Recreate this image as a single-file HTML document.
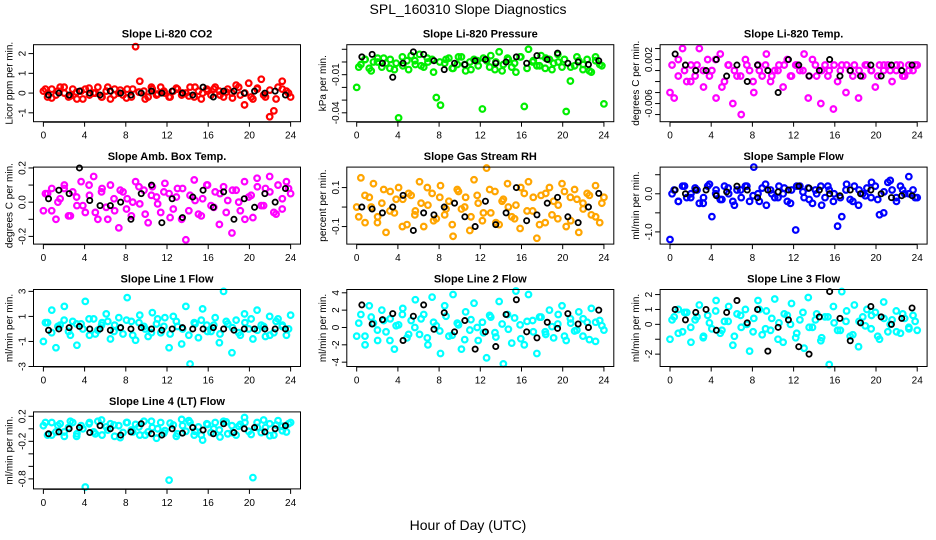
<!DOCTYPE html>
<html><head><meta charset="utf-8"><style>
html,body{margin:0;padding:0;background:#fff;}
svg{display:block;font-family:"Liberation Sans",sans-serif;}
</style></head><body>
<svg id="chart" width="936" height="540" viewBox="0 0 936 540" xmlns="http://www.w3.org/2000/svg">
<rect x="0" y="0" width="936" height="540" fill="#fff"/>
<text x="468" y="14" text-anchor="middle" font-size="14">SPL_160310  Slope Diagnostics</text>
<text x="468" y="530" text-anchor="middle" font-size="14">Hour of Day (UTC)</text>
</svg>
<script>
const xTicks = [0,4,8,12,16,20,24];
const co2Col = [0.1,-0.2,0.2,-0.1,0.3,0,-0.2,0.2,-0.3,0.1,0.2,-0.1,0,0.3,-0.2,0.1,-0.3,0.2,0,-0.1,0.2,-0.2,2.35,0.6,0.1,-0.2,0.2,-0.1,0.3,0,-0.2,0.1,0.2,-0.1,0,0.3,-0.2,0.1,0,0.2,-0.1,0.3,0.1,-0.2,0.2,0,0.4,-0.1,-0.6,0.5,-0.3,0.2,0.7,-0.2,-1.2,-0.9,0.3,0.6,0.1,-0.2];
const co2Dense = [0.2,-0.25,0.1,0.3,-0.15,0.05,-0.3,0.25,0.0,-0.2,0.3,-0.1,0.15,-0.25,0.2,0.05,-0.3,0.3,-0.05,0.1,-0.2,0.25,0.0,-0.15,0.3,-0.3,0.1,0.2,-0.1,0.05,-0.25,0.3,0.0,-0.2,0.25,-0.1,0.15,-0.3,0.2,0.0];
const co2Blk = [-0.1,0,-0.1,0.1,0,-0.1,0.1,0,-0.1,0,0.1,0,0.1,0,-0.1,0.3,-0.2,0.1,0.1,0,0.1,0,0.1,-0.1];
const presCol = [-0.02,-0.002,0.002,-0.005,0,0.003,-0.004,-0.001,0.002,-0.006,-0.044,-0.003,0.001,0.005,-0.002,0.006,-0.004,0,0.002,-0.028,-0.034,-0.001,0.003,-0.005,-0.002,0.004,-0.007,0,0.002,-0.003,-0.037,0.001,0.005,-0.006,0.008,-0.002,0.003,-0.004,-0.008,0.004,-0.035,0.01,0,-0.003,0.005,-0.005,0.002,-0.001,0.006,-0.004,-0.039,-0.015,-0.003,0.001,-0.006,0.002,-0.008,0.004,-0.002,-0.033];
const presDense = [-0.004,0.002,-0.007,0.0,0.003,-0.005,-0.001,0.004,-0.006,0.001,-0.003,0.003,-0.008,0.0,0.002,-0.005,0.004,-0.002,-0.006,0.001,0.003,-0.004,0.0,-0.007,0.002,-0.001,0.004,-0.005,0.001,-0.003,0.003,-0.006,0.0,0.002,-0.004,0.004,-0.002,-0.007,0.001,-0.003];
const presBlk = [0.004,0.006,-0.001,-0.012,-0.001,0.008,0.006,0.001,-0.006,-0.001,-0.002,0.001,0.002,-0.001,0,0.004,-0.001,0.005,0.002,0.007,-0.001,0,-0.002,0.001];
const tempCol = [-0.004,-0.005,0.002,0.004,-0.002,0.001,-0.001,0.004,-0.003,0.002,0,-0.005,0.003,-0.002,0.001,-0.006,-0.001,-0.008,0.002,0,-0.004,0.001,-0.001,0.003,-0.002,0,0.001,-0.003,0.002,-0.001,0.001,0,0.003,-0.005,0.002,-0.001,-0.006,0.001,0,-0.007,-0.002,0.001,-0.004,0,0.001,-0.005,-0.001,0.001,0,-0.003,0.001,0,0.001,-0.002,0,0.001,-0.001,0.001,0,0.001];
const tempDense = [0.001,-0.001,0,-0.002,0.001,0,-0.001,0.002,-0.003,0.001,0,-0.001,0.001,-0.002,0,0.001,-0.001,0,0.001,-0.001,0.001,0,-0.001,0.001,0,-0.001,0.001,0,0.001,-0.001,0,0.001,0,-0.001,0.001,0,0.001,-0.001,0,0.001];
const tempBlk = [0.003,0.001,0,0,0.002,-0.001,0.001,-0.002,0.001,0,-0.004,0.002,0.001,-0.001,0,0.002,-0.001,0,-0.001,0.001,-0.001,0.001,0,0.001];
const ambCol = [-0.05,0.05,0.08,-0.1,0.02,0.1,-0.08,0.06,-0.02,0.12,-0.06,0.04,0.15,-0.1,0.08,-0.03,0.1,-0.05,-0.15,0.06,0.02,-0.08,0.12,-0.01,0.07,-0.12,0.09,0.03,-0.06,0.11,0.05,-0.04,0.08,-0.1,-0.22,0.04,0.13,-0.07,0.02,0.1,-0.02,0.06,-0.13,0.09,0.01,-0.18,0.07,-0.05,0.12,0.03,-0.09,0.14,-0.02,0.08,0.15,-0.06,0.1,-0.04,0.12,0.05];
const ambDense = [0.05,-0.05,0.0,0.08,-0.08,0.03,-0.02,0.1,-0.06,0.06,-0.1,0.02,0.07,-0.04,0.0,0.09,-0.07,0.04,-0.01,0.06,-0.09,0.03,0.08,-0.05,0.01,-0.08,0.1,-0.03,0.05,-0.06,0.07,0.0,-0.1,0.04,0.09,-0.02,0.06,-0.07,0.02,0.08];
const ambBlk = [0.02,0.07,0.05,0.2,0.01,-0.02,-0.02,0.0,-0.1,0.05,0.1,-0.12,0.02,-0.09,0.03,0.07,-0.03,0.06,-0.1,0.02,-0.03,0.05,0.0,0.08];
const rhCol = [0.0,0.15,-0.08,0.05,0.12,-0.05,0.02,-0.13,0.08,-0.03,0.1,0.04,-0.09,0.06,-0.02,0.13,-0.1,0.01,0.07,-0.06,0.11,-0.04,0.03,-0.15,0.09,-0.01,0.05,-0.12,0.14,0.02,-0.07,0.2,-0.03,0.08,-0.09,0.04,0.12,-0.05,0.01,-0.11,0.07,0.13,-0.02,-0.16,0.06,-0.08,0.1,0.03,-0.06,0.12,-0.1,0.05,0.09,-0.13,0.02,0.07,-0.04,0.11,-0.08,0.05];
const rhDense = [-0.05,0.06,0.0,-0.08,0.09,-0.02,0.04,-0.1,0.07,-0.04,0.02,0.1,-0.07,0.05,-0.01,-0.09,0.08,0.0,-0.05,0.06,-0.03,0.09,-0.08,0.03,0.0,-0.06,0.1,-0.02,0.05,-0.09,0.07,-0.04,0.01,0.08,-0.07,0.04,-0.01,0.06,-0.05,0.02];
const rhBlk = [0.0,-0.01,-0.03,0.0,0.06,-0.12,-0.03,-0.04,0.0,0.02,-0.05,-0.1,0.03,-0.09,-0.03,0.1,-0.07,-0.04,0.02,0.05,-0.05,-0.08,0.0,0.07];
const sampCol = [-1.2,0.1,-0.2,0.2,-0.1,0.0,0.15,-0.25,-0.1,0.2,-0.6,0.1,-0.15,0.2,0.0,-0.2,0.1,-0.1,0.2,-0.2,0.7,0.0,0.15,-0.3,0.1,-0.1,0.2,0.0,-0.2,0.1,-0.95,0.2,-0.1,0.15,-0.25,0.0,0.2,-0.1,0.1,-0.2,-0.85,-0.6,0.1,-0.15,0.2,-0.3,0.0,0.15,-0.1,0.2,-0.55,-0.5,0.3,0.1,-0.1,0.2,0.0,0.45,0.1,-0.1];
const sampDense = [0.0,-0.2,0.2,-0.1,0.1,-0.25,0.25,0.0,-0.15,0.15,-0.3,0.1,0.2,-0.05,-0.2,0.25,0.0,-0.1,0.15,-0.25,0.2,0.05,-0.15,0.1,-0.3,0.2,0.0,-0.1,0.25,-0.2,0.1,-0.05,0.3,-0.15,0.05,0.35,-0.2,0.1,0.0,-0.1];
const sampBlk = [0.1,0.0,0.1,0.1,-0.05,0.05,0.2,0.1,-0.1,0.1,0.05,0.1,0.2,0.15,0.1,0.0,-0.05,0.1,0.0,0.1,0.0,-0.1,-0.05,-0.05];
const l1Col = [-1,0.5,1.5,-1.5,0.3,1.8,-0.2,0.6,-1.3,0.4,2.2,-0.5,0.8,-0.1,0.5,1.2,-0.8,0.3,0.9,-0.4,2.5,0.6,-0.9,1.1,0.2,-0.6,1.3,0.4,-0.3,0.9,-1.5,1.0,0.2,-1.2,1.8,-2.8,0.5,-0.7,1.6,0.3,-0.2,0.9,-1.1,3.0,0.4,-1.9,0.7,-0.5,1.2,0.0,-0.8,1.5,0.3,-0.6,1.0,-0.3,0.8,0.2,-0.5,1.1];
const l1Dense = [0.5,-0.3,0.2,0.7,-0.5,0.4,0.0,0.8,-0.4,0.3,0.6,-0.2,0.1,0.7,-0.5,0.5,0.0,-0.3,0.8,0.2,-0.4,0.6,0.0,-0.5,0.4,0.7,-0.2,0.3,-0.4,0.6,0.1,-0.3,0.5,0.8,-0.1,0.2,-0.5,0.6,0.3,0.0];
const l1Blk = [-0.1,0,0.1,0.2,0,0,-0.1,0.1,0,0.1,0,-0.1,0,0.1,0,0,0.1,0,-0.1,0,0,0,0,0];
const l2Col = [-1,1.5,-2,2.5,0.5,-1.5,2,-0.5,1,-2.5,0.3,2.2,-1.2,0.8,3.2,-0.8,1.5,-2,3.5,0.2,-3,2.5,-1,3.8,0.5,-2.5,1.8,-0.3,2.8,-1.5,0.6,-3.5,1.2,-0.6,3,-4.2,1.5,-1.8,4.2,0.3,-2,3.8,0.8,-3,1.2,-0.5,2,-1.2,0.4,2.5,-1.5,1.0,-0.4,1.8,-1.0,0.6,2.2,-1.6,0.8,-0.3];
const l2Dense = [0.5,-1.0,1.2,-0.3,0.8,-1.5,0.2,1.5,-0.8,0.0,1.0,-1.2,0.6,-0.4,1.3,-0.9,0.3,-1.4,0.9,0.0,-0.6,1.4,-1.1,0.4,-0.2,1.1,-1.3,0.7,-0.5,1.2,-0.8,0.1,1.5,-1.0,0.5,-0.3,1.0,-1.4,0.6,0.2];
const l2Blk = [2.6,0.4,0.9,1.6,-1.5,1.3,2.6,-0.2,1.7,-0.5,0.8,-2.5,-0.5,-2.2,1.5,3.2,-0.5,-1.2,0.6,-0.1,1.6,0.4,0.0,2.0];
const l3Col = [-1,0.5,1,-0.5,0.8,-1.2,0.3,1.3,-0.8,0.6,-0.3,1.6,-0.6,0.2,1.2,-1.4,0.7,-0.2,1.0,-1.8,0.4,1.6,-0.7,0.9,-0.4,1.7,0.1,-1.2,0.6,1.4,-0.9,0.3,-1.6,1.8,-0.2,0.7,-1.1,0.5,-2.7,1.2,-0.4,2.2,0.2,-0.8,1.3,-1.5,0.5,1.0,-0.3,0.8,-1.0,1.5,-0.5,0.3,0.9,-0.6,0.4,-0.2,0.6,-0.4];
const l3Dense = [0.3,-0.6,0.8,-0.2,0.5,-0.9,0.1,0.9,-0.4,0.2,-0.8,0.6,0.0,-0.5,1.0,-0.3,0.4,-1.0,0.7,0.0,-0.6,0.8,-0.2,0.3,-0.9,0.5,0.1,-0.4,0.9,-0.7,0.2,-0.1,0.6,-0.8,0.4,0.0,-0.5,0.7,-0.3,0.2];
const l3Blk = [1.0,0.3,0.8,1.0,-0.4,0.8,1.6,0.1,1.0,-1.8,-0.2,0.3,-1.5,-2.0,0.5,2.2,0.4,-1.1,0.1,1.2,0.5,0.0,0.4,1.1];
const l4Col = [0.05,-0.1,0.1,-0.05,0.08,-0.12,0.02,0.1,-0.08,0.05,-0.93,0.1,-0.05,0.12,-0.1,0.03,0.08,-0.12,0.05,-0.06,0.1,-0.02,0.07,-0.1,0.12,-0.05,0.02,-0.15,0.1,-0.03,-0.82,0.06,-0.08,0.15,-0.04,0.1,-0.1,0.03,-0.18,0.08,-0.06,0.1,-0.02,0.12,-0.08,0.05,-0.1,0.07,0.18,-0.04,-0.78,0.1,-0.06,0.02,0.08,-0.1,0.13,0.04,-0.05,0.1];
const l4Dense = [0.1,-0.1,0.05,-0.05,0.12,-0.12,0.0,0.08,-0.08,0.14,-0.02,0.06,-0.14,0.1,-0.05,0.03,-0.1,0.12,0.0,-0.07,0.09,-0.12,0.05,0.13,-0.04,-0.1,0.07,0.0,-0.13,0.11,-0.06,0.04,0.1,-0.09,0.02,0.14,-0.11,0.06,-0.03,0.08];
const l4Blk = [-0.08,-0.05,0.0,0.02,-0.06,0.05,0.0,-0.1,-0.05,0.08,-0.08,-0.1,0.0,-0.07,0.02,-0.02,-0.08,0.08,-0.06,0.0,0.02,-0.05,0.0,0.05];

const panels = [
 {name:'co2',title:'Slope Li-820 CO2',ylab:'Licor ppm per min.',col:'#ff0000',c:co2Col,d:co2Dense,b:co2Blk,ymin:-1.45,ymax:2.45,ticks:[-1,0,1,2],labels:['-1','0','1','2']},
 {name:'pressure',title:'Slope Li-820 Pressure',ylab:'kPa per min.',col:'#00ee00',c:presCol,d:presDense,b:presBlk,ymin:-0.047,ymax:0.0136,ticks:[-0.04,-0.03,-0.02,-0.01,0,0.01],labels:['-0.04','','','-0.01','','']},
 {name:'temp',title:'Slope Li-820 Temp.',ylab:'degrees C per min.',col:'#ff00ff',c:tempCol,d:tempDense,b:tempBlk,ymin:-0.0093,ymax:0.0047,ticks:[-0.008,-0.006,-0.004,-0.002,0,0.002,0.004],labels:['','-0.006','','','','0.002','']},
 {name:'amb-box-temp',title:'Slope Amb. Box Temp.',ylab:'degrees C per min.',col:'#ff00ff',c:ambCol,d:ambDense,b:ambBlk,ymin:-0.245,ymax:0.205,ticks:[-0.2,-0.1,0,0.1,0.2],labels:['-0.2','','0.0','','0.2']},
 {name:'gas-rh',title:'Slope Gas Stream RH',ylab:'percent per min.',col:'#ffa500',c:rhCol,d:rhDense,b:rhBlk,ymin:-0.19,ymax:0.205,ticks:[-0.1,0,0.1],labels:['-0.1','','0.1']},
 {name:'sample-flow',title:'Slope Sample Flow',ylab:'ml/min per min.',col:'#0000ff',c:sampCol,d:sampDense,b:sampBlk,ymin:-1.32,ymax:0.7,ticks:[-1,-0.5,0,0.5],labels:['-1.0','','0.0','']},
 {name:'line1-flow',title:'Slope Line 1 Flow',ylab:'ml/min per min.',col:'#00ffff',c:l1Col,d:l1Dense,b:l1Blk,ymin:-3.0,ymax:3.15,ticks:[-3,-1,1,3],labels:['-3','-1','1','3']},
 {name:'line2-flow',title:'Slope Line 2 Flow',ylab:'ml/min per min.',col:'#00ffff',c:l2Col,d:l2Dense,b:l2Blk,ymin:-4.5,ymax:4.38,ticks:[-4,-2,0,2,4],labels:['-4','-2','0','2','4']},
 {name:'line3-flow',title:'Slope Line 3 Flow',ylab:'ml/min per min.',col:'#00ffff',c:l3Col,d:l3Dense,b:l3Blk,ymin:-2.83,ymax:2.34,ticks:[-2,-1,0,1,2],labels:['-2','','0','1','2']},
 {name:'line4-flow',title:'Slope Line 4 (LT) Flow',ylab:'ml/min per min.',col:'#00ffff',c:l4Col,d:l4Dense,b:l4Blk,ymin:-0.96,ymax:0.27,ticks:[-0.8,-0.6,-0.4,-0.2,0,0.2],labels:['-0.8','','','-0.2','','0.2']}
];
const NS='http://www.w3.org/2000/svg';
const svg=document.getElementById('chart');
function mk(tag,attrs,parent){const e=document.createElementNS(NS,tag);for(const k in attrs)e.setAttribute(k,attrs[k]);(parent||svg).appendChild(e);return e;}
const BW=267, BH=77;
panels.forEach((p,i)=>{
  const r=Math.floor(i/3), c=i%3;
  const L=33.5+c*313.3, T=44.7+r*122.4;
  const g=mk('g',{});
  
  
  const xs=h=>L+(h+0.96)/25.92*BW;
  const ys=v=>T+BH-(v-p.ymin)/(p.ymax-p.ymin)*BH;
  const t=mk('text',{x:L+BW/2,y:T-7,'text-anchor':'middle','font-size':'11','font-weight':'bold'},g);
  t.textContent=p.title;
  
  
  const yl=mk('text',{x:0,y:0,'text-anchor':'middle','font-size':'10',transform:`translate(${L-21},${T+BH/2}) rotate(-90)`},g);
  yl.textContent=p.ylab;
  
  
  const nd=p.d.length;
  p.d.forEach((v,k)=>{
    const h=0.2+k*23.6/(nd-1);
    const cc=mk('circle',{cx:xs(h),cy:ys(v),r:2.8,fill:'none',stroke:p.col,'stroke-width':2.2},g);
    
    
  });
  const n=p.c.length;
  p.c.forEach((v,k)=>{
    const h=k*24/(n-1);
    const cc=mk('circle',{cx:xs(h),cy:ys(v),r:2.8,fill:'none',stroke:p.col,'stroke-width':2.2},g);
    
    
  });
  p.b.forEach((v,k)=>{
    const h=k+0.5;
    const cc=mk('circle',{cx:xs(h),cy:ys(v),r:2.6,fill:'none',stroke:'#000','stroke-width':1.8},g);
    
    
  });
  const box=mk('rect',{x:L,y:T,width:BW,height:BH,fill:'none',stroke:'#000','stroke-width':1},g);
  
  
  xTicks.forEach(h=>{
    mk('line',{x1:xs(h),x2:xs(h),y1:T+BH,y2:T+BH+5,stroke:'#000'},g);
    const tl=mk('text',{x:xs(h),y:T+BH+17,'text-anchor':'middle','font-size':'10'},g);
    tl.textContent=String(h);
    
    
  });
  mk('line',{x1:xs(0),x2:xs(24),y1:T+BH+0.5,y2:T+BH+0.5,stroke:'#000'},g);
  p.ticks.forEach((v,k)=>{
    mk('line',{x1:L-5,x2:L,y1:ys(v),y2:ys(v),stroke:'#000'},g);
    if(p.labels[k]){
      const tl=mk('text',{x:0,y:0,'text-anchor':'middle','font-size':'10',transform:`translate(${L-8},${ys(v)}) rotate(-90)`},g);
      tl.textContent=p.labels[k];
      
      
    }
  });
});
</script>
</body></html>
